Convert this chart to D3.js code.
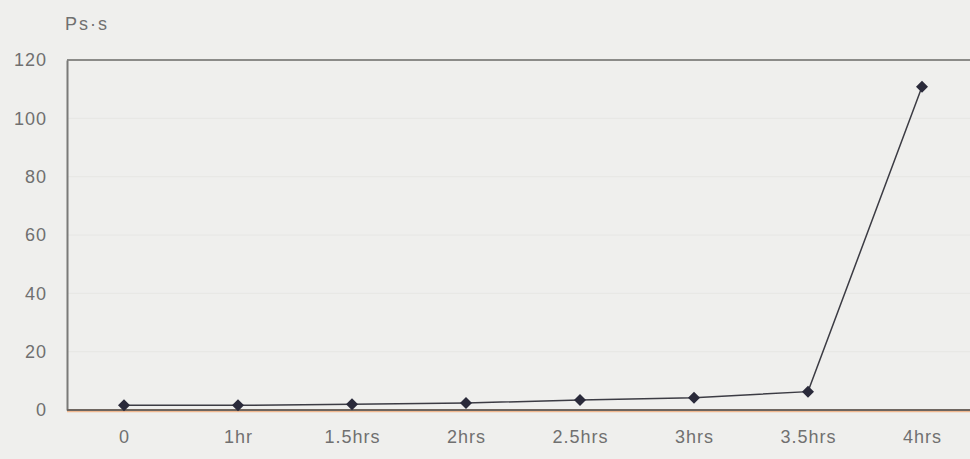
<!DOCTYPE html>
<html><head><meta charset="utf-8">
<script src="https://cdn.jsdelivr.net/npm/d3@7"></script>
<style>
html,body{margin:0;padding:0;background:#efefed;}
svg{display:block;}
text{font-family:"Liberation Sans",Arial,sans-serif;}
</style></head>
<body>
<svg id="c" width="970" height="459"></svg>
<script>
const categories = ["0","1hr","1.5hrs","2hrs","2.5hrs","3hrs","3.5hrs","4hrs"];
const values = [1.6, 1.6, 2.0, 2.4, 3.4, 4.2, 6.3, 110.8];
const yTicks = [0,20,40,60,80,100,120];
const unitLabel = "Ps·s";

const svg = d3.select("#c");
const W = 970, H = 459;
const m = {left:67, top:60, bottom:410, right:979};

const x = d3.scalePoint().domain(categories).range([m.left, m.right]).padding(0.5);
const y = d3.scaleLinear().domain([0,120]).range([m.bottom, m.top]);

// gridlines
svg.append("g").selectAll("line").data(yTicks.filter(d=>d>0 && d<120)).join("line")
  .attr("x1", m.left).attr("x2", W).attr("y1", d=>y(d)).attr("y2", d=>y(d))
  .attr("stroke", "#e6e6e4").attr("stroke-width", 1);

// top border line at 120
svg.append("line").attr("x1", m.left).attr("x2", W).attr("y1", y(120)).attr("y2", y(120))
  .attr("stroke", "#6a6a66").attr("stroke-width", 1.5);

// y axis
const yAxis = d3.axisLeft(y).tickValues(yTicks).tickSize(0).tickPadding(20);
const ga = svg.append("g").attr("transform", `translate(${m.left},0)`).call(yAxis);
ga.select(".domain").attr("stroke", "#7a7a78").attr("stroke-width", 2);
ga.selectAll("text").attr("fill", "#707070").attr("font-size", 18).attr("letter-spacing", 1);

// x axis
const xAxis = d3.axisBottom(x).tickSize(0).tickPadding(20);
const gx = svg.append("g").attr("transform", `translate(0,${m.bottom})`).call(xAxis);
gx.select(".domain").remove();
gx.selectAll("text").attr("fill", "#707070").attr("font-size", 18).attr("letter-spacing", 1);
// baseline
svg.append("line").attr("x1", m.left).attr("x2", W).attr("y1", y(0)+1.5).attr("y2", y(0)+1.5)
  .attr("stroke", "#f0b890").attr("stroke-width", 1.5);
svg.append("line").attr("x1", m.left).attr("x2", W).attr("y1", y(0)).attr("y2", y(0))
  .attr("stroke", "#6e6660").attr("stroke-width", 1.8);

// unit label
svg.append("text").attr("x", 65).attr("y", 30).attr("fill", "#707070").attr("font-size", 18)
  .attr("letter-spacing", 2).text(unitLabel);

// line
const line = d3.line().x((d,i)=>x(categories[i])).y(d=>y(d));
svg.append("path").datum(values).attr("d", line).attr("fill","none")
  .attr("stroke", "#3c3c44").attr("stroke-width", 1.5);

// markers (square diamonds)
const r = 6;
svg.append("g").selectAll("path").data(values).join("path")
  .attr("d", `M0,${-r}L${r},0L0,${r}L${-r},0Z`)
  .attr("transform", (d,i)=>`translate(${x(categories[i])},${y(d)})`)
  .attr("fill", "#2a2a3a");
</script>
</body></html>
